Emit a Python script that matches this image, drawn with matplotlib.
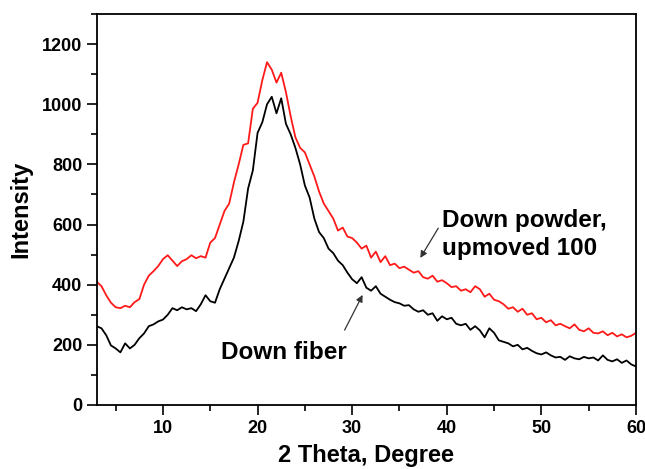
import numpy as np
import matplotlib
matplotlib.use("Agg")
from matplotlib import pyplot as plt
from matplotlib.ticker import MultipleLocator

plt.rcParams['font.family'] = ['Liberation Sans', 'DejaVu Sans']
plt.rcParams['font.weight'] = 'bold'

# 2 theta grid, 0.5 degree steps from 3 to 60
two_theta = np.arange(3.0, 60.01, 0.5)

# Down fiber intensity
fiber = [262, 255, 232, 198, 188, 175, 205, 188, 200, 222,
         238, 262, 268, 278, 284, 300, 322, 315, 325, 318,
         322, 312, 335, 365, 345, 340, 385, 420, 455, 490,
         545, 610, 720, 780, 905, 940, 1000, 1025, 970, 1020,
         935, 900, 855, 800, 730, 690, 620, 575, 555, 520,
         505, 480, 465, 440, 418, 405, 425, 390, 380, 395,
         370, 360, 350, 342, 338, 330, 332, 318, 310, 315,
         300, 305, 280, 295, 285, 290, 270, 265, 270, 250,
         262, 248, 225, 255, 240, 215, 210, 205, 195, 200,
         185, 190, 180, 172, 168, 175, 165, 158, 160, 150,
         162, 155, 152, 160, 155, 158, 148, 165, 150, 145,
         152, 140, 148, 135, 128]

# Down powder intensity (already shifted up by 100)
powder = [410, 395, 365, 340, 325, 322, 330, 325, 342, 352,
          400, 430, 445, 462, 485, 498, 480, 462, 478, 485,
          498, 488, 495, 490, 540, 555, 600, 645, 670, 740,
          800, 865, 870, 985, 1005, 1080, 1140, 1115, 1072, 1105,
          1040, 960, 890, 855, 840, 800, 760, 710, 670, 645,
          620, 580, 590, 560, 555, 540, 520, 530, 490, 510,
          475, 495, 465, 470, 455, 460, 450, 440, 445, 425,
          420, 430, 410, 415, 405, 392, 395, 380, 385, 375,
          395, 385, 360, 370, 350, 345, 335, 320, 325, 310,
          320, 300, 305, 285, 290, 275, 282, 265, 270, 262,
          255, 268, 250, 245, 255, 240, 238, 245, 232, 240,
          228, 235, 225, 230, 240]

fig = plt.figure(figsize=(6.45, 4.69), dpi=100)
ax = fig.add_axes([0.150, 0.1365, 0.836, 0.8335])

ax.plot(two_theta, powder, color='#ff1a1a', lw=1.3)
ax.plot(two_theta, fiber, color='black', lw=1.3)

ax.set_xlim(3, 60)
ax.set_ylim(0, 1300)
ax.xaxis.set_major_locator(MultipleLocator(10))
ax.xaxis.set_minor_locator(MultipleLocator(5))
ax.yaxis.set_major_locator(MultipleLocator(200))
ax.yaxis.set_minor_locator(MultipleLocator(100))
ax.tick_params(which='both', direction='out', top=False, right=False,
               width=1.2, labelsize=13)
ax.tick_params(which='major', length=7)
ax.tick_params(which='minor', length=4)
for s in ax.spines.values():
    s.set_linewidth(1.3)

ax.set_xlabel('2 Theta, Degree', fontsize=17, fontweight='bold', labelpad=5)
ax.set_ylabel('Intensity', fontsize=17, fontweight='bold', labelpad=7)

arrow = dict(arrowstyle='-|>', color='#333333', lw=0.9,
             mutation_scale=10, shrinkA=0, shrinkB=0)
ax.text(39.5, 567, 'Down powder,\nupmoved 100', fontsize=17.5,
        fontweight='bold', ha='left', va='center', linespacing=1.25)
ax.annotate('', xy=(37.2, 489), xytext=(39.1, 588), arrowprops=arrow)
ax.annotate('', xy=(31.1, 366), xytext=(29.2, 249), arrowprops=arrow)
ax.text(16.1, 176, 'Down fiber', fontsize=17.5, fontweight='bold',
        ha='left', va='center')

fig.savefig('out.png', dpi=100)
